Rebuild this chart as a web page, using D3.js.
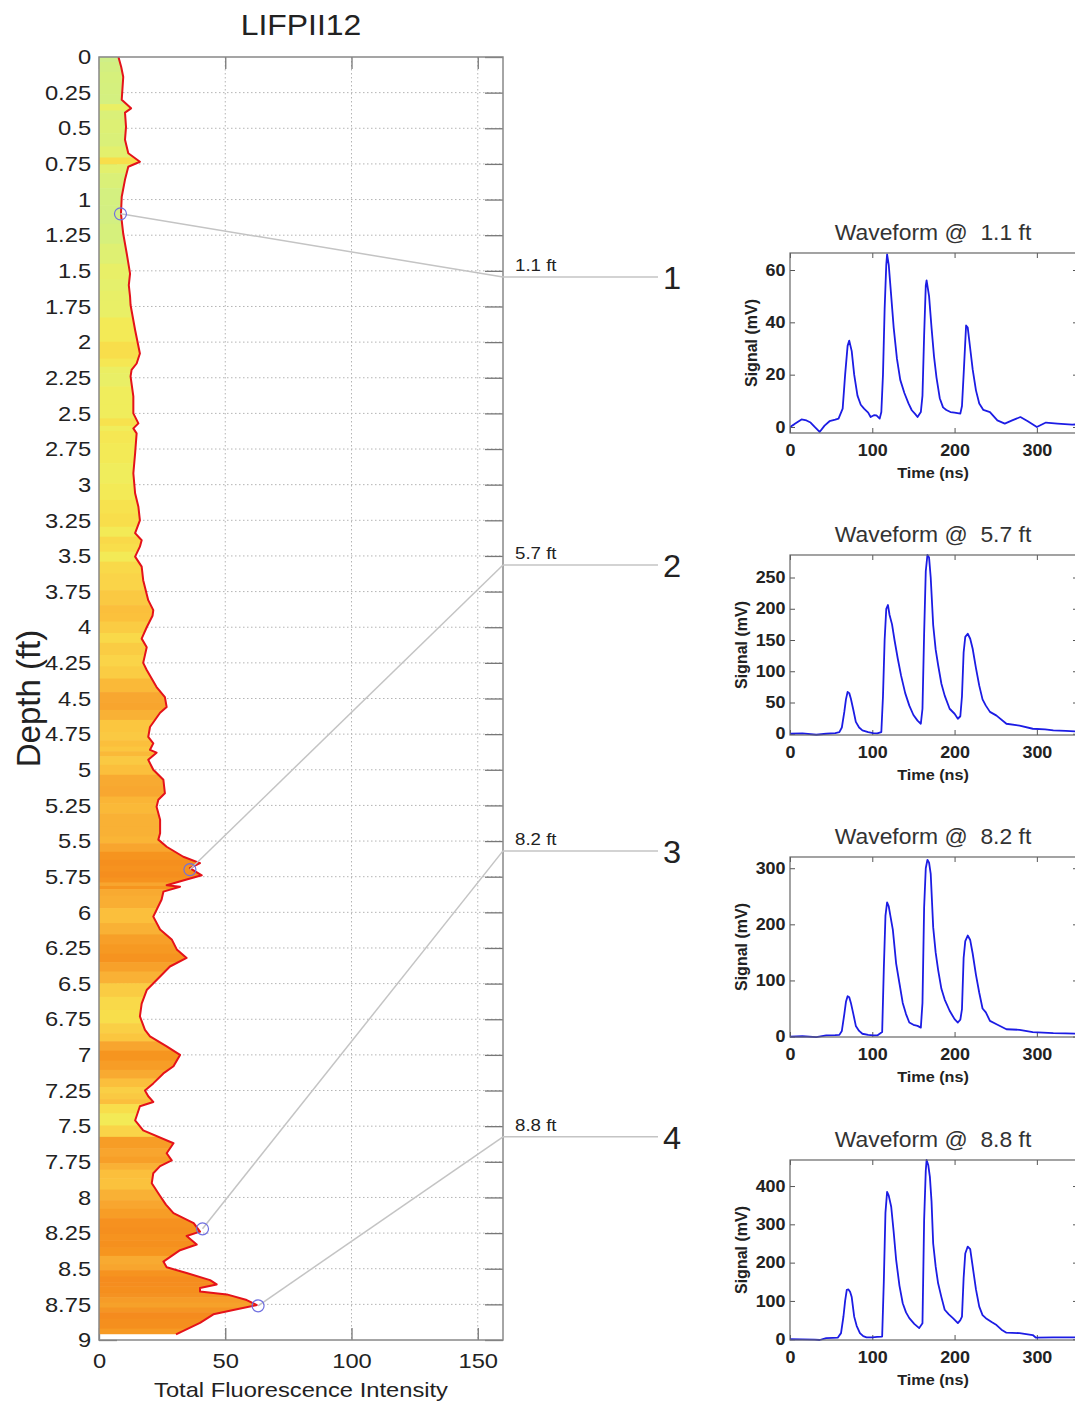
<!DOCTYPE html>
<html><head><meta charset="utf-8">
<script src="https://cdn.jsdelivr.net/npm/d3@7"></script>
<style>
body{margin:0;background:#fff}
svg{display:block}
text{font-family:"Liberation Sans",Arial,Helvetica,sans-serif}
</style>
</head><body>
<svg id="c" width="1075" height="1405"></svg>
<script>
// ---------------- DATA ----------------
const depth = [0.00,0.07,0.14,0.22,0.30,0.36,0.39,0.49,0.58,0.675,0.735,0.77,0.86,0.98,1.10,1.24,1.38,1.52,1.60,1.68,1.74,1.915,2.08,2.15,2.195,2.24,2.38,2.50,2.57,2.605,2.64,2.78,2.92,3.06,3.155,3.25,3.34,3.39,3.435,3.505,3.575,3.67,3.81,3.88,3.92,4.00,4.08,4.14,4.25,4.30,4.42,4.49,4.56,4.60,4.70,4.77,4.815,4.86,4.88,4.93,5.00,5.07,5.165,5.21,5.26,5.35,5.445,5.49,5.54,5.61,5.655,5.69,5.74,5.77,5.81,5.82,5.855,5.91,6.03,6.12,6.19,6.26,6.32,6.38,6.45,6.545,6.64,6.73,6.825,6.87,6.94,7.00,7.08,7.13,7.20,7.25,7.29,7.33,7.36,7.46,7.53,7.62,7.69,7.74,7.78,7.83,7.90,7.99,8.05,8.11,8.18,8.24,8.27,8.33,8.37,8.45,8.49,8.53,8.58,8.61,8.635,8.66,8.68,8.72,8.755,8.79,8.82,8.88,8.96];
const intensity = [7.7,8.8,9.6,9.3,9.0,12.7,10.3,10.7,10.3,11.6,16.2,11.6,10.3,9.0,8.7,9.6,11.0,12.3,11.8,12.3,12.5,14.3,16.2,14.9,12.9,12.5,13.6,13.6,15.6,13.6,14.9,14.3,13.6,14.3,15.6,16.2,14.3,16.9,16.2,14.3,16.9,17.5,19.5,21.5,21.2,18.9,16.9,18.9,17.5,18.9,22.8,26.1,26.8,24.2,20.2,19.5,21.5,20.2,22.8,19.5,21.5,25.5,26.1,23.5,22.8,24.2,24.2,23.5,26.8,33.4,40.0,36.0,40.7,34.7,26.8,32.1,25.5,24.8,21.5,24.2,28.8,30.8,34.7,28.1,24.2,18.9,16.9,16.2,18.2,20.2,26.8,32.1,29.5,25.5,21.5,18.2,19.5,21.5,16.2,14.3,17.5,29.5,26.8,28.8,24.2,21.5,20.9,24.2,26.5,29.5,37.5,40.0,34.7,38.7,32.1,25.5,26.8,34.7,44.0,46.6,40.0,40.0,50.6,58.5,62.5,53.2,45.3,40.0,30.5];

const depthTicks = [0,0.25,0.5,0.75,1,1.25,1.5,1.75,2,2.25,2.5,2.75,3,3.25,3.5,3.75,4,4.25,4.5,4.75,5,5.25,5.5,5.75,6,6.25,6.5,6.75,7,7.25,7.5,7.75,8,8.25,8.5,8.75,9];
const intensityTicks = [0,50,100,150];

const markerDepth = [1.1,5.7,8.22,8.76];
const markerIntensity = [8.5,36,41,63];
const markerLabels = ["1.1 ft","5.7 ft","8.2 ft","8.8 ft"];
const calloutNumbers = ["1","2","3","4"];
const calloutDepth = [1.543,3.563,5.569,7.575];

const waveTitles = ["Waveform @  1.1 ft","Waveform @  5.7 ft","Waveform @  8.2 ft","Waveform @  8.8 ft"];
const timeTicks = [0,100,200,300];

const wave1Time = [0,5,14,20,25,30,36,42,48,55,59,64,67,70,72,75,78,82,86,90,95,98,102,105,109,111,113,115,117,118,120,123,126,130,134,139,144,148,152,155,159,161,163,165,166,169,172,175,178,182,186,190,195,200,207,209,211,214,216,219,222,226,230,235,243,252,261,270,280,289,300,311,325,343,350];
const wave1Signal = [0,1,2.9,2.5,1.7,0,-1.9,0.5,2.2,2.8,3.2,7,20,31,33,29,20,12,8.5,7,5.5,3.8,4.5,4.4,3.2,5.7,20,45,62,66,62,50,38,26,18,13,9,6.4,5,3.8,5.7,12,35,54,56,50,38,27,19,11,7.5,6.5,5.7,5.5,5.1,8,20,38.8,38,30,22,14,9,6.5,5.7,2.5,1.3,2.5,3.8,2.2,0,1.7,1.3,0.9,1.0];
const wave1Ticks = [0,20,40,60];

const wave2Time = [0,15,32,44,55,60,63,66,68,70,72,74,77,80,84,88,95,101,106,111,113,115,117,119,121,124,127,131,135,140,145,150,155,159,161,163,165,167,169,171,174,177,180,184,188,194,200,204,207,209,211,213,216,219,222,226,230,234,238,243,251,263,279,295,310,320,335,350];
const wave2Signal = [0,0.5,-1.6,0,1,2.7,10,35,55,67,65,56,38,19,10,5.3,2.5,1,0.5,2.7,60,150,200,206,190,175,150,120,93,65,45,30,21,16,40,160,260,286,282,250,174,135,110,80,61,40,32,24,28,60,130,155,160,152,136,105,77,55,45,35,29,16,13,8,7,5.3,4.5,3.7];
const wave2Ticks = [0,50,100,150,200,250];

const wave3Time = [0,15,32,44,55,60,63,66,68,70,72,74,77,80,84,88,95,101,106,112,114,116,118,120,122,125,129,133,137,141,145,150,155,159,161,163,165,167,169,171,174,177,180,184,188,194,200,204,207,209,211,213,216,219,222,226,230,234,238,243,251,263,279,295,320,335,350];
const wave3Signal = [0,0.5,-1,2,2.5,3,10,40,62,72,70,60,40,19,10,5,3,2,2,8,120,215,239,232,215,190,130,95,60,40,25,21,19,16,60,230,300,315,310,290,195,150,119,85,66,46,31,25,30,49,140,170,180,172,148,110,78,50,43,28,22,13,12,8,6,5.5,5];
const wave3Ticks = [0,100,200,300];

const wave4Time = [0,15,30,36,44,52,58,62,65,67,69,71,73,75,78,81,85,89,93,100,106,112,114,116,118,120,123,126,129,133,137,141,145,151,157,161,163,165,166,168,170,172,174,177,180,184,188,193,198,204,207,209,211,213,216,219,222,226,230,234,238,245,251,257,263,279,295,299,320,335,350];
const wave4Signal = [0,-0.5,-1,-2,3,3.5,4,16,60,100,129,130,124,110,59,35,16,8,5,5,6,7,150,330,385,375,346,280,207,140,94,70,55,40,29,42,311,440,468,455,424,360,250,190,146,110,77,65,55,42,50,59,160,224,242,235,190,130,85,63,55,45,37,25,17,16,11,4,5,5,5];
const wave4Ticks = [0,100,200,300,400];

// ---------------- MAIN LOG ----------------
const svg = d3.select("#c");
const X0 = 99, X1 = 503, Y0 = 57, Y1 = 1340;
const x = d3.scaleLinear().domain([0,160]).range([X0,X1]);
const y = d3.scaleLinear().domain([0,9]).range([Y0,Y1]);
const SX = "scale(1.13,1)";

// grid
const grid = svg.append("g").attr("stroke","#b4b4b4").attr("stroke-width",1).attr("stroke-dasharray","1.5,2.5");
grid.selectAll("line.h").data(depthTicks.filter(d=>d>0&&d<9)).join("line")
  .attr("x1",X0).attr("x2",X1).attr("y1",d=>y(d)).attr("y2",d=>y(d));
grid.selectAll("line.v").data(intensityTicks.filter(d=>d>0)).join("line")
  .attr("x1",d=>x(d)).attr("x2",d=>x(d)).attr("y1",Y0).attr("y2",Y1);

// axes (drawn below data, MATLAB style)
function styleAxis(g){
  g.select(".domain").remove();
  g.selectAll(".tick line").attr("stroke","#777").attr("stroke-width",1.3);
  g.selectAll(".tick text").attr("fill","#222").attr("font-size",21).attr("transform",SX);
}
svg.append("g").attr("transform",`translate(${X0},0)`)
  .call(d3.axisLeft(y).tickValues(depthTicks).tickFormat(d=>d3.format("~g")(d)).tickSizeInner(-18).tickSizeOuter(0).tickPadding(7))
  .call(styleAxis).attr("font-family",null);
svg.append("g").attr("transform",`translate(${X1},0)`)
  .call(d3.axisRight(y).tickValues(depthTicks).tickFormat("").tickSizeInner(-18).tickSizeOuter(0))
  .call(styleAxis);
svg.append("g").attr("transform",`translate(0,${Y1})`)
  .call(d3.axisBottom(x).tickValues(intensityTicks).tickSizeInner(-12).tickSizeOuter(0).tickPadding(13))
  .call(styleAxis).attr("font-family",null);
svg.append("g").attr("transform",`translate(0,${Y0})`)
  .call(d3.axisTop(x).tickValues(intensityTicks).tickFormat("").tickSizeInner(-12).tickSizeOuter(0))
  .call(styleAxis);

// colored fill under curve
const colour = d3.scaleLinear()
  .domain([8,10,12,14,16,18,22,26,32,45,62])
  .range(["#d0ef86","#d8f07a","#e6f06a","#f2ec58","#f8e04c","#fad046","#fbbd3a","#f8a730","#f6951f","#f58b1e","#f6a02a"]);
const area = d3.area().x0(x(0)).x1((d,i)=>x(intensity[i])).y((d,i)=>y(depth[i]));
svg.append("clipPath").attr("id","fillclip").append("path").attr("d",area(depth));
const bands = svg.append("g").attr("clip-path","url(#fillclip)");
bands.selectAll("rect").data(depth).join("rect")
  .attr("x",X0).attr("width",X1-X0)
  .attr("y",(d,i)=>i===0?y(d):y((depth[i-1]+d)/2))
  .attr("height",(d,i)=>{
    const a = i===0?y(d):y((depth[i-1]+d)/2);
    const b = i===depth.length-1?y(d):y((depth[i+1]+d)/2);
    return b-a+0.6;})
  .attr("fill",(d,i)=>colour(intensity[i]));

// red curve
svg.append("path").attr("d",d3.line().x((d,i)=>x(intensity[i])).y((d,i)=>y(depth[i]))(depth))
  .attr("fill","none").attr("stroke","#e4121a").attr("stroke-width",2).attr("stroke-linejoin","round");

// box
svg.append("rect").attr("x",X0).attr("y",Y0).attr("width",X1-X0).attr("height",Y1-Y0)
  .attr("fill","none").attr("stroke","#888").attr("stroke-width",1.5);

// titles
svg.append("text").attr("transform",`translate(${(X0+X1)/2},35) scale(1.1,1)`)
  .attr("text-anchor","middle").attr("font-size",29).attr("fill","#222").text("LIFPII12");
svg.append("text").attr("transform",`translate(${(X0+X1)/2},1397) ${SX}`)
  .attr("text-anchor","middle").attr("font-size",21).attr("fill","#222").text("Total Fluorescence Intensity");
svg.append("text").attr("transform",`translate(28,${y(4.5)}) rotate(-90)`)
  .attr("text-anchor","middle").attr("dominant-baseline","central").attr("font-size",33).attr("fill","#222").text("Depth (ft)");

// callouts
const call = svg.append("g");
markerDepth.forEach((md,i)=>{
  const cy = y(calloutDepth[i]);
  call.append("line").attr("x1",x(markerIntensity[i])).attr("y1",y(md)).attr("x2",X1).attr("y2",cy)
    .attr("stroke","#c4c4c4").attr("stroke-width",1.5);
  call.append("line").attr("x1",X1).attr("y1",cy).attr("x2",658).attr("y2",cy)
    .attr("stroke","#c4c4c4").attr("stroke-width",1.5);
  call.append("circle").attr("cx",x(markerIntensity[i])).attr("cy",y(md)).attr("r",6)
    .attr("fill","none").attr("stroke","#7070e0").attr("stroke-width",1.2);
  call.append("text").attr("transform",`translate(515,${cy-6}) scale(1.1,1)`)
    .attr("font-size",17).attr("fill","#222").text(markerLabels[i]);
  call.append("text").attr("transform",`translate(672,${cy+1}) scale(1.05,1)`)
    .attr("text-anchor","middle").attr("dominant-baseline","central").attr("font-size",31).attr("fill","#222").text(calloutNumbers[i]);
});

// ---------------- WAVEFORM PANELS ----------------
const PX = 790, PW = 288, PH = 180;
const panels = [
  {time:wave1Time, sig:wave1Signal, dom:[-2.3,66.5], ticks:wave1Ticks, top:253, lx:751},
  {time:wave2Time, sig:wave2Signal, dom:[-2,286], ticks:wave2Ticks, top:555, lx:741},
  {time:wave3Time, sig:wave3Signal, dom:[-0.8,320], ticks:wave3Ticks, top:857, lx:741},
  {time:wave4Time, sig:wave4Signal, dom:[-2,468], ticks:wave4Ticks, top:1160, lx:741}
];
function stylePanelAxis(g){
  g.select(".domain").remove();
  g.selectAll(".tick line").attr("stroke","#555").attr("stroke-width",1);
  g.selectAll(".tick text").attr("fill","#222").attr("font-size",16).attr("font-weight","bold").attr("transform","scale(1.12,1)");
}
panels.forEach((p,i)=>{
  const xs = d3.scaleLinear().domain([0,350]).range([0,PW]);
  const ys = d3.scaleLinear().domain(p.dom).range([PH,0]);
  const g = svg.append("g").attr("transform",`translate(${PX},${p.top})`);
  g.append("g").attr("transform",`translate(0,${PH})`)
    .call(d3.axisBottom(xs).tickValues(timeTicks).tickSizeInner(-5).tickSizeOuter(0).tickPadding(12)).call(stylePanelAxis).attr("font-family",null);
  g.append("g").call(d3.axisTop(xs).tickValues(timeTicks).tickFormat("").tickSizeInner(-5).tickSizeOuter(0)).call(stylePanelAxis);
  g.append("g").call(d3.axisLeft(ys).tickValues(p.ticks).tickSizeInner(-5).tickSizeOuter(0).tickPadding(4)).call(stylePanelAxis).attr("font-family",null);
  g.append("g").attr("transform",`translate(${PW},0)`)
    .call(d3.axisRight(ys).tickValues(p.ticks).tickFormat("").tickSizeInner(-5).tickSizeOuter(0)).call(stylePanelAxis);
  g.append("clipPath").attr("id","pc"+i).append("rect").attr("x",0).attr("y",-2).attr("width",PW).attr("height",PH+3);
  g.append("path").attr("clip-path",`url(#pc${i})`)
    .attr("d",d3.line().x((d,k)=>xs(p.time[k])).y((d,k)=>ys(p.sig[k]))(p.time))
    .attr("fill","none").attr("stroke","#1c1ce4").attr("stroke-width",1.8).attr("stroke-linejoin","round");
  g.append("rect").attr("width",PW).attr("height",PH).attr("fill","none").attr("stroke","#666").attr("stroke-width",1.2);
  svg.append("text").attr("transform",`translate(933,${p.top-13}) scale(1.04,1)`)
    .attr("text-anchor","middle").attr("font-size",22).attr("fill","#333").style("white-space","pre").text(waveTitles[i]);
  svg.append("text").attr("transform",`translate(933,${p.top+PH+45}) scale(1.08,1)`)
    .attr("text-anchor","middle").attr("font-size",15).attr("font-weight","bold").attr("fill","#222").text("Time (ns)");
  svg.append("text").attr("transform",`translate(${p.lx},${p.top+PH/2}) rotate(-90)`)
    .attr("text-anchor","middle").attr("dominant-baseline","central").attr("font-size",16).attr("font-weight","bold").attr("fill","#222").text("Signal (mV)");
});
</script>
</body></html>
